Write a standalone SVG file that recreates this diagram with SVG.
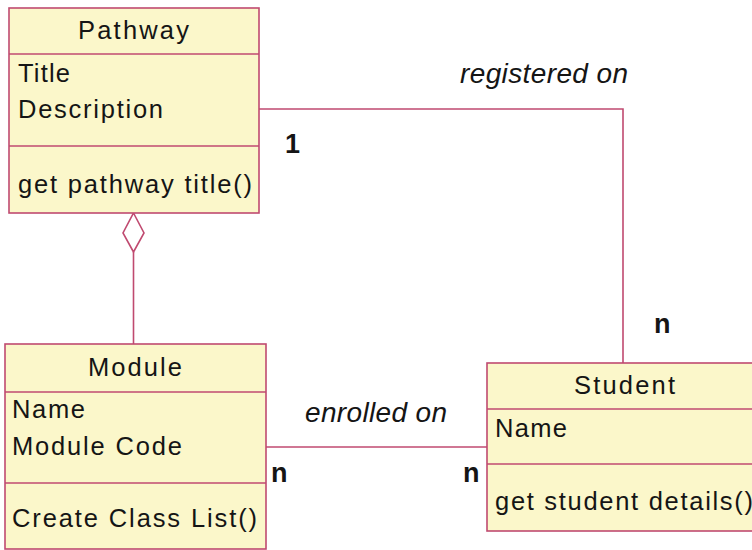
<svg xmlns="http://www.w3.org/2000/svg" width="752" height="550" viewBox="0 0 752 550">
<style>
.box{fill:#FBF7CA;stroke:#C04A70;stroke-width:1.6}
.div{stroke:#C04A70;stroke-width:1.6;fill:none}
.conn{stroke:#C04A70;stroke-width:1.6;fill:none}
.t{font-family:"Liberation Sans",Arial,sans-serif;font-size:25.5px;fill:#151515}
.lbl{font-family:"Liberation Sans",Arial,sans-serif;font-size:28px;font-style:italic;fill:#151515}
.mult{font-family:"Liberation Sans",Arial,sans-serif;font-size:27px;font-weight:bold;fill:#151515}
</style>
<rect width="752" height="550" fill="#ffffff"/>
<g id="connectors">
<polyline class="conn" points="259,109 623,109 623,363"/>
<line class="conn" x1="266" y1="447" x2="487" y2="447"/>
<polygon class="conn" fill="#ffffff" points="133.5,213 144,233 133.5,252 123,233"/>
<line class="conn" x1="133.5" y1="252" x2="133.5" y2="344"/>
<text class="lbl" x="460" y="83" textLength="168" lengthAdjust="spacing">registered on</text>
<text class="lbl" x="305" y="422" textLength="142" lengthAdjust="spacing">enrolled on</text>
<text class="mult" x="285" y="153">1</text>
<text class="mult" x="654" y="333">n</text>
<text class="mult" x="271" y="482">n</text>
<text class="mult" x="463" y="482">n</text>
</g>
<g id="pathway">
<rect class="box" x="9" y="8" width="250" height="205"/>
<line class="div" x1="9" y1="54" x2="259" y2="54"/>
<line class="div" x1="9" y1="146" x2="259" y2="146"/>
<text class="t" x="78" y="39" textLength="111" lengthAdjust="spacing">Pathway</text>
<text class="t" x="18" y="82" textLength="52" lengthAdjust="spacing">Title</text>
<text class="t" x="18" y="118" textLength="145" lengthAdjust="spacing">Description</text>
<text class="t" x="18" y="193" textLength="234" lengthAdjust="spacing">get pathway title()</text>
</g>
<g id="module">
<rect class="box" x="5" y="344" width="261" height="205"/>
<line class="div" x1="5" y1="392" x2="266" y2="392"/>
<line class="div" x1="5" y1="483" x2="266" y2="483"/>
<text class="t" x="88" y="376" textLength="94" lengthAdjust="spacing">Module</text>
<text class="t" x="12" y="418" textLength="73" lengthAdjust="spacing">Name</text>
<text class="t" x="12" y="455" textLength="170" lengthAdjust="spacing">Module Code</text>
<text class="t" x="12" y="527" textLength="245" lengthAdjust="spacing">Create Class List()</text>
</g>
<g id="student">
<rect class="box" x="487" y="363" width="280" height="168"/>
<line class="div" x1="487" y1="409" x2="767" y2="409"/>
<line class="div" x1="487" y1="464" x2="767" y2="464"/>
<text class="t" x="574" y="394" textLength="101" lengthAdjust="spacing">Student</text>
<text class="t" x="495" y="437" textLength="72" lengthAdjust="spacing">Name</text>
<text class="t" x="495" y="510" textLength="258" lengthAdjust="spacing">get student details()</text>
</g>
</svg>
